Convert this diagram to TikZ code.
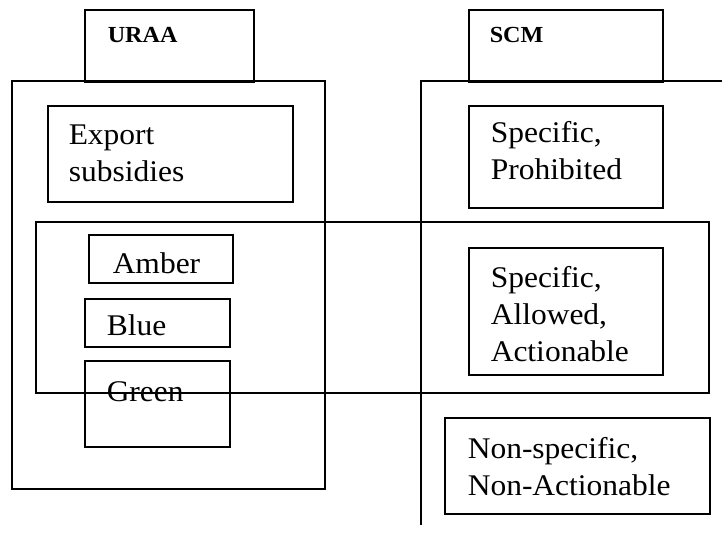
\documentclass[tikz,border=0pt]{standalone}
\usepackage{fontspec}
\setmainfont{Liberation Serif}[FakeStretch=1.05]

\begin{document}
\begin{tikzpicture}[x=1pt, y=-1pt, line width=1.5pt,
	box/.style = {draw, anchor=north west, inner sep=0pt},
	txt/.style = {font=\fontsize{30}{37}\selectfont, align=left, anchor=north west, inner sep=0pt},
	head/.style = {font=\fontsize{23}{28}\selectfont\bfseries, anchor=base west, inner sep=0pt}]
		\useasboundingbox (0,0) rectangle (722,533);
		% URAA side
		\node[box, minimum width=169pt, minimum height=72pt] (uraa) at (84,9) {};
		\node[head] (uraatxt) at (107,42) {URAA};
		\draw (12,81) rectangle (325,489);
		\node[box, minimum width=245pt, minimum height=96pt] (export) at (47,105) {};
		\node[txt] (exporttxt) at (68,124) {Export\\subsidies};
		\node[box, minimum width=144pt, minimum height=48pt] (amber) at (88,234) {};
		\node[txt] (ambertxt) at (112,252) {Amber};
		\node[box, minimum width=145pt, minimum height=48pt] (blue) at (84,298) {};
		\node[txt] (bluetxt) at (106,314) {Blue};
		\node[box, minimum width=145pt, minimum height=86pt] (green) at (84,360) {};
		\node[txt] (greentxt) at (106,381) {Green};
		% SCM side
		\node[box, minimum width=194pt, minimum height=72pt] (scm) at (468,9) {};
		\node[head] (scmtxt) at (489,42) {SCM};
		\draw (722,81) -- (421,81) -- (421,525);
		\node[box, minimum width=194pt, minimum height=102pt] (prohib) at (468,105) {};
		\node[txt] (prohibtxt) at (490,121) {Specific,\\Prohibited};
		\node[box, minimum width=194pt, minimum height=127pt] (allowed) at (468,247) {};
		\node[txt] (allowedtxt) at (490,266) {Specific,\\Allowed,\\Actionable};
		\node[box, minimum width=265pt, minimum height=96pt] (nonspec) at (444,417) {};
		\node[txt] (nonspectxt) at (467,437) {Non-specific,\\Non-Actionable};
		% overlap band
		\draw (36,222) rectangle (709,393);
	\end{tikzpicture}
\end{document}
